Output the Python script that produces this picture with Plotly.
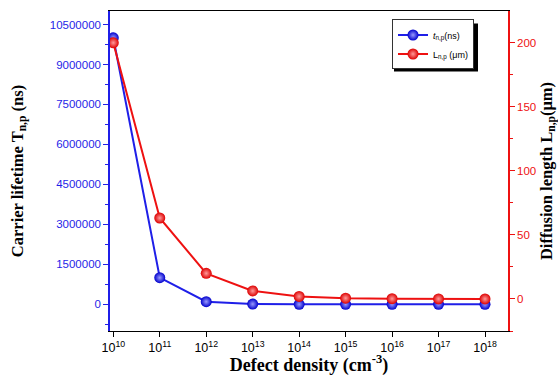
import plotly.graph_objects as go

# Data
defect_density = [1e10, 1e11, 1e12, 1e13, 1e14, 1e15, 1e16, 1e17, 1e18]
lifetime_ns = [10000000, 1000000, 100000, 10000, 1000, 100, 10, 1, 0.1]
diffusion_um = [200, 63.2, 20, 6.3, 2.0, 0.63, 0.2, 0.063, 0.02]
x_tick_vals = [1e10, 1e11, 1e12, 1e13, 1e14, 1e15, 1e16, 1e17, 1e18]
x_tick_text = ["10<sup>%d</sup>" % e for e in range(10, 19)]
y_tick_vals = [0, 1500000, 3000000, 4500000, 6000000, 7500000, 9000000, 10500000]
y2_tick_vals = [0, 50, 100, 150, 200]

BLUE = "#1f1fe8"
RED = "#ee1111"
SANS = "Liberation Sans, Arial, sans-serif"
SERIF = "Liberation Serif, Times New Roman, serif"

fig = go.Figure()
fig.add_trace(go.Scatter(
    x=defect_density, y=lifetime_ns, mode="lines+markers",
    name="<i>t</i><sub>n,p</sub>(ns)",
    line=dict(color=BLUE, width=2),
    marker=dict(size=11, color="#0000cc", gradient=dict(type="radial", color="#9a9aff"),
                line=dict(width=0)),
    yaxis="y"))
fig.add_trace(go.Scatter(
    x=defect_density, y=diffusion_um, mode="lines+markers",
    name="L<sub>n,p</sub> (μm)",
    line=dict(color=RED, width=2),
    marker=dict(size=11, color="#dd0000", gradient=dict(type="radial", color="#ff9a9a"),
                line=dict(width=0)),
    yaxis="y2"))

PW, PH = 398.0, 320.5
def px(x):
    return (x - 110) / PW
def py(y):
    return (331 - y) / PH

# legend shadow
fig.add_shape(type="rect", xref="paper", yref="paper",
              x0=px(394), x1=px(478), y0=py(71), y1=py(23),
              fillcolor="black", line=dict(width=0), layer="above")

fig.update_layout(
    width=558, height=376,
    margin=dict(l=110, r=50, t=10.5, b=45, autoexpand=False),
    paper_bgcolor="white", plot_bgcolor="white",
    showlegend=True,
    legend=dict(x=px(474), y=py(19), xanchor="right", yanchor="top",
                bgcolor="white", bordercolor="#333333", borderwidth=1,
                font=dict(family=SANS, size=9, color="black"),
                tracegroupgap=0, itemwidth=30),
    xaxis=dict(type="log", range=[9.929, 18.495], automargin=False,
               tickvals=x_tick_vals, ticktext=x_tick_text,
               tickfont=dict(family=SANS, size=12.5, color="black"),
               ticks="outside", ticklen=5, tickcolor="black",
               showline=True, linecolor="black", linewidth=1, mirror=True,
               showgrid=False, zeroline=False,
               title=dict(text="<b>Defect density (cm<sup>-3</sup>)</b>",
                          font=dict(family=SERIF, size=18, color="black"), standoff=10)),
    yaxis=dict(range=[-1.0e6, 11.006e6], automargin=False,
               tickvals=y_tick_vals, ticktext=[str(v) for v in y_tick_vals],
               tickfont=dict(family=SANS, size=11.5, color=BLUE),
               ticks="outside", ticklen=5, tickcolor=BLUE,
               minor=dict(dtick=750000, ticks="outside", ticklen=3, tickcolor=BLUE, tick0=0),
               showline=True, linecolor=BLUE, linewidth=1.5,
               showgrid=False, zeroline=False,
               title=dict(text="<b>Carrier lifetime T<sub>n,p</sub> (ns)</b>",
                          font=dict(family=SERIF, size=16.5, color="black"), standoff=22)),
    yaxis2=dict(range=[-25, 224.8], overlaying="y", side="right", automargin=False,
                tickvals=y2_tick_vals,
                tickfont=dict(family=SANS, size=11.5, color=RED),
                ticks="outside", ticklen=5, tickcolor=RED,
                minor=dict(dtick=25, ticks="outside", ticklen=3, tickcolor=RED, tick0=0),
                showline=True, linecolor=RED, linewidth=1.5,
                showgrid=False, zeroline=False,
                title=dict(text="<b>Diffusion length L<sub>n,p</sub>(μm)</b>",
                           font=dict(family=SERIF, size=16.5, color="black"), standoff=12)),
)

fig.write_html("out.html")
